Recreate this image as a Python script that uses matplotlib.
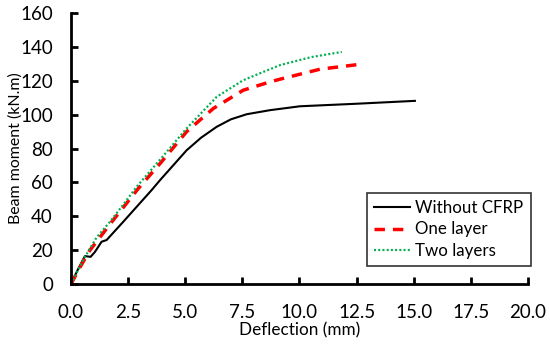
import matplotlib
matplotlib.use("Agg")
import matplotlib.pyplot as plt

x_none = [0, 0.3, 0.61, 0.86, 1.05, 1.34, 1.56, 2.29, 2.9, 3.53, 3.9, 4.5, 5.06, 5.7, 6.38, 7.0, 7.69, 8.71, 10.02, 12.5, 15.05]
y_none = [0, 8.5, 16.5, 16.1, 19, 25, 26, 36.8, 46, 55.5, 61.4, 70.5, 79, 86.5, 92.9, 97.3, 100.3, 102.7, 105, 106.5, 108.2]

x_one = [0, 0.4, 0.83, 1.85, 2.95, 3.9, 5.06, 6.23, 7.54, 8.71, 9.15, 10.9, 12.72]
y_one = [0, 10, 20, 37.8, 56.5, 71.2, 90, 103.7, 114.5, 119.4, 121, 126.9, 129.9]

x_two = [0, 0.3, 0.61, 1.12, 1.71, 2.44, 2.87, 4.04, 5.06, 6.38, 7.54, 8.42, 9.15, 10.5, 11.85]
y_two = [0, 8, 16, 27.5, 36.8, 49.6, 57.4, 75.7, 91.9, 110.6, 120.4, 125.3, 129.3, 134, 137.1]

labels = ["Without CFRP", "One layer", "Two layers"]
xticks = [0, 2.5, 5, 7.5, 10, 12.5, 15, 17.5, 20]
yticks = [0, 20, 40, 60, 80, 100, 120, 140, 160]

plt.rcParams['font.family'] = ['Lato', 'DejaVu Sans']

fig = plt.figure(figsize=(5.5, 3.46), dpi=100)
ax = fig.add_axes([0.129, 0.179, 0.831, 0.783])

ax.plot(x_none, y_none, color='black', lw=1.5, label=labels[0])
ax.plot(x_one, y_one, color='#ff0000', lw=2.5, ls=(0, (3.0, 2.3)), label=labels[1])
ax.plot(x_two, y_two, color='#00b050', lw=1.6, ls=(0, (0.9, 1.0)), label=labels[2])

ax.set_xlim(0, 20)
ax.set_ylim(0, 160)
ax.set_xticks(xticks)
ax.set_xticklabels([f"{t:.1f}" for t in xticks])
ax.set_yticks(yticks)
ax.tick_params(direction='in', length=5, width=2, labelsize=13.5, colors='black')
ax.tick_params(axis='x', pad=14)
ax.tick_params(axis='y', pad=13)
for s in ['top', 'right']:
    ax.spines[s].set_visible(False)
for s in ['left', 'bottom']:
    ax.spines[s].set_linewidth(2)

ax.set_xlabel("Deflection (mm)", fontsize=12.3, labelpad=1)
ax.set_ylabel("Beam moment (kN.m)", fontsize=11.4)
ax.yaxis.set_label_coords(-0.105, 0.5)

leg = ax.legend(loc='lower right', bbox_to_anchor=(1.006, 0.066), fontsize=12.2,
                frameon=True, fancybox=False, edgecolor='black', handlelength=2.1,
                borderpad=0.45, labelspacing=0.3, handletextpad=0.3, borderaxespad=0)
leg.get_frame().set_linewidth(1.2)

fig.savefig("out.png", dpi=100)
